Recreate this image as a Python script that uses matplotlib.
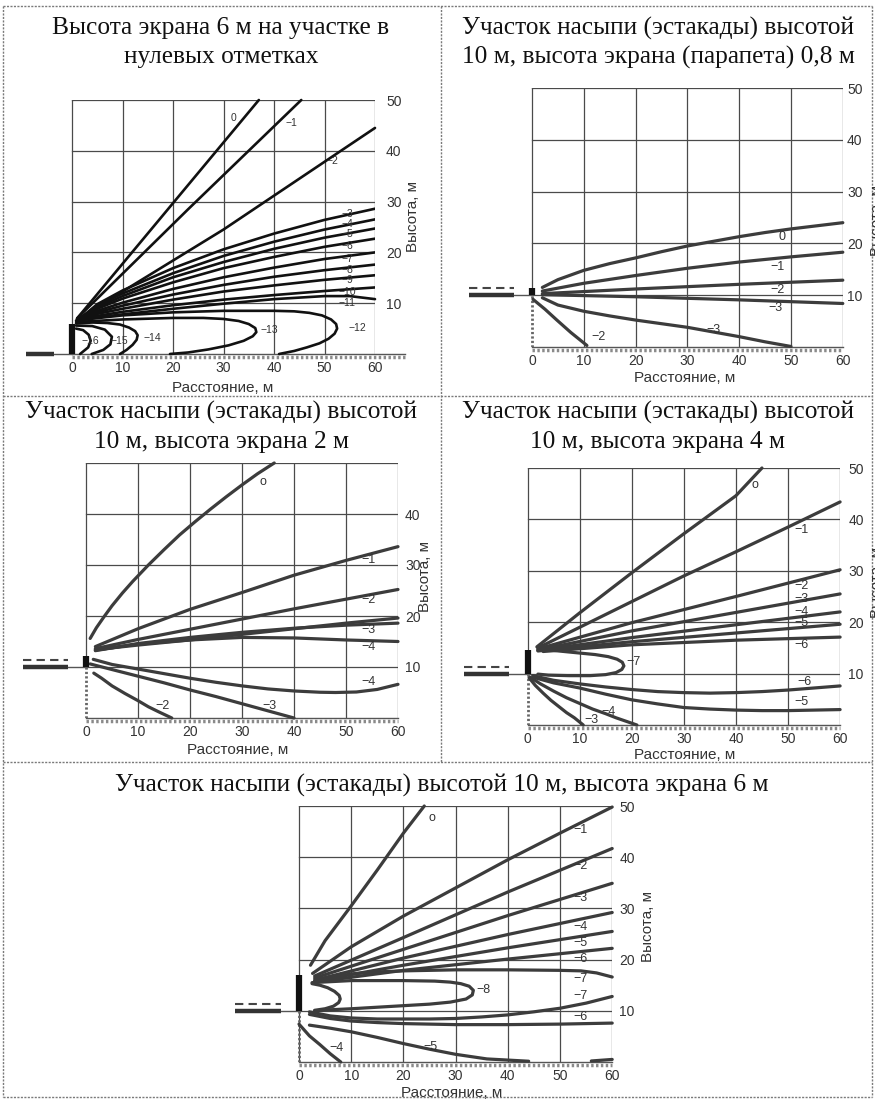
import matplotlib.pyplot as plt
from matplotlib.lines import Line2D

W, H = 875, 1099

# ---------------- panel 1: screen 6 m at grade ----------------
p1_c0 = ([1, 19, 37], [7.0, 28.5, 50.0])
p1_c1 = ([1, 23, 45.4], [7.0, 28.5, 50.0])
p1_c2 = ([1, 30, 60], [6.8, 24.5, 44.5])
p1_fan_x = [1, 5, 10, 20, 30, 40, 50, 60]
p1_c3 = [6.5, 9.8, 12.5, 16.9, 20.6, 23.7, 26.4, 28.6]
p1_c4 = [6.5, 9.5, 11.9, 15.9, 19.3, 22.1, 24.5, 26.5]
p1_c5 = [6.5, 9.2, 11.4, 15.1, 18.1, 20.7, 22.9, 24.7]
p1_c6 = [6.5, 8.9, 10.9, 14.1, 16.9, 19.1, 21.1, 22.7]
p1_c7 = [6.5, 8.5, 10.1, 12.8, 15.1, 17.0, 18.7, 20.0]
p1_c8 = [6.5, 8.2, 9.5, 11.7, 13.6, 15.2, 16.5, 17.6]
p1_c9 = [6.5, 7.9, 8.9, 10.7, 12.3, 13.5, 14.6, 15.5]
p1_c10 = [6.5, 7.5, 8.3, 9.6, 10.7, 11.6, 12.4, 13.1]
p1_c11 = ([1, 5, 10, 20, 30, 40, 50, 55, 60],
          [6.5, 7.2, 7.8, 8.9, 9.9, 10.8, 11.4, 11.4, 10.8])
p1_c12 = ([0.8, 10, 20, 30, 40, 44, 47, 49.5, 51.3, 52.3, 52.5, 52, 50.8, 49, 46.5, 44, 41],
          [6.6, 7.6, 8.2, 8.5, 8.5, 8.4, 8.1, 7.6, 6.8, 5.9, 5.0, 4.0, 3.0, 2.1, 1.3, 0.6, 0])
p1_c13 = ([0.8, 10, 20, 26, 30, 33, 35, 36.3, 36.5, 35.8, 34, 31, 27, 23, 19.4],
          [6.3, 6.8, 7.1, 7.1, 6.9, 6.5, 5.9, 5.1, 4.3, 3.5, 2.6, 1.7, 0.9, 0.3, 0])
p1_c14 = ([0.8, 4, 7, 9.5, 11.3, 12.5, 13, 12.8, 12, 10.8, 9.5],
          [6.0, 6.2, 6.1, 5.8, 5.2, 4.5, 3.7, 2.8, 1.8, 0.8, 0])
p1_c15 = ([0.8, 4, 6.5, 7.9, 7.6, 6.2, 3.9],
          [5.6, 5.5, 4.8, 3.4, 1.9, 0.8, 0])
p1_c16 = ([0.8, 2.2, 3.3, 3.7, 3.2, 1.6],
          [5.0, 4.7, 3.8, 2.6, 1.3, 0])
p1_labels = [("0", 32, 46.5), ("−1", 43.5, 45.5), ("−2", 51.5, 38.0),
             ("−3", 54.5, 27.6), ("−4", 54.5, 25.6), ("−5", 54.5, 23.7),
             ("−6", 54.5, 21.2), ("−7", 54.5, 18.7), ("−8", 54.5, 16.6),
             ("−9", 54.5, 14.5), ("−10", 54.5, 12.3), ("−11", 54.5, 10.0),
             ("−12", 56.5, 5.1), ("−13", 39.0, 4.7), ("−14", 16.0, 3.2),
             ("−15", 9.3, 2.6), ("−16", 3.6, 2.6)]

# ---------------- panel 2: embankment 10 m, parapet 0.8 m ----------------
p2_c0 = ([2, 5, 10, 15, 20, 25, 30, 35, 40, 45, 50, 55, 60],
         [11.5, 13.0, 14.8, 16.1, 17.2, 18.4, 19.5, 20.4, 21.3, 22.1, 22.8, 23.4, 24.0])
p2_c1 = ([2, 10, 20, 30, 40, 50, 60], [10.8, 12.3, 13.8, 15.2, 16.4, 17.4, 18.3])
p2_c2 = ([2, 20, 40, 60], [10.3, 11.2, 12.1, 12.9])
p2_c3 = ([2, 20, 40, 60], [10.1, 9.7, 9.1, 8.4])
p2_c3b = ([2, 5, 10, 15, 20, 25, 30, 35, 40, 45, 50],
          [9.5, 8.1, 6.9, 6.0, 5.2, 4.5, 3.8, 2.9, 2.0, 1.0, 0.1])
p2_c2b = ([0.2, 2.5, 4.8, 7.5, 10.6], [9.2, 7.3, 5.2, 2.8, 0.3])
p2_labels = [("0", 48.3, 21.2), ("−1", 47.3, 15.4), ("−2", 47.3, 11.0),
             ("−3", 47.0, 7.5), ("−3", 35.0, 3.3), ("−2", 12.8, 2.0)]

# ---------------- panel 3: embankment 10 m, screen 2 m ----------------
p3_c0 = ([0.8, 2, 3.5, 5, 7, 9, 12, 15, 18, 21, 24, 27, 30, 33, 36.2],
         [15.6, 17.7, 19.9, 22.0, 24.5, 26.8, 30.0, 33.0, 35.9, 38.5, 41.0, 43.4, 45.7, 47.9, 50.0])
p3_c1 = ([1.8, 10, 20, 30, 40, 50, 60], [14.0, 17.5, 21.3, 24.6, 28.0, 30.9, 33.6])
p3_c2 = ([1.8, 10, 20, 30, 40, 50, 60], [13.6, 15.4, 17.4, 19.4, 21.4, 23.3, 25.2])
p3_c3 = ([1.8, 10, 20, 30, 40, 50, 60], [13.4, 14.3, 15.3, 16.4, 17.5, 18.6, 19.6])
p3_c3a = ([1.8, 10, 20, 30, 40, 50, 60], [13.2, 14.6, 15.8, 16.8, 17.6, 18.2, 18.6])
p3_c4 = ([1.8, 10, 20, 30, 40, 50, 60], [13.3, 14.5, 15.3, 15.8, 15.7, 15.3, 15.0])
p3_c4b = ([1.4, 5, 10, 15, 20, 25, 30, 35, 40, 45, 48, 52, 56, 60],
          [11.5, 10.5, 9.6, 8.7, 7.8, 7.0, 6.3, 5.7, 5.3, 5.05, 5.0, 5.1, 5.6, 6.6])
p3_c3b = ([0.8, 5, 10, 15, 20, 25, 30, 35, 40], [10.6, 9.5, 8.2, 6.9, 5.5, 4.2, 2.8, 1.4, 0])
p3_c2b = ([1.5, 3, 5, 7.5, 10, 12, 14, 16.5], [8.8, 7.8, 6.3, 4.8, 3.4, 2.2, 1.2, 0])
p3_labels = [("o", 34.0, 46.3), ("−1", 54.4, 31.0), ("−2", 54.4, 23.1),
             ("−3", 54.4, 17.3), ("−4", 54.4, 13.9), ("−4", 54.4, 7.0),
             ("−3", 35.2, 2.4), ("−2", 14.8, 2.4)]

# ---------------- panel 4: embankment 10 m, screen 4 m ----------------
p4_c0 = ([1.8, 10, 20, 30, 40, 45], [15.2, 21.8, 29.6, 37.2, 44.6, 50.0])
p4_c1 = ([2, 10, 20, 30, 40, 50, 60], [15.0, 19.0, 24.0, 29.0, 33.7, 38.5, 43.4])
p4_c2 = ([2, 20, 40, 60], [14.8, 19.9, 25.0, 30.2])
p4_c3 = ([2, 20, 40, 60], [14.6, 18.3, 21.9, 25.5])
p4_c4 = ([2, 20, 40, 60], [14.5, 17.0, 19.5, 22.0])
p4_c5 = ([2, 20, 40, 60], [14.4, 16.2, 17.9, 19.6])
p4_c6 = ([3, 20, 40, 60], [14.3, 15.6, 16.5, 17.1])
p4_c7 = ([2.5, 6, 10, 13, 15.5, 17.2, 18.2, 18.5, 18.1, 17, 15, 12, 8, 4, 2],
         [14.8, 14.4, 14.0, 13.7, 13.3, 12.8, 12.2, 11.5, 10.8, 10.2, 9.8, 9.6, 9.6, 9.7, 9.9])
p4_c6b = ([1, 5, 10, 15, 20, 25, 30, 35, 40, 45, 50, 55, 60],
          [9.6, 8.7, 8.0, 7.4, 6.9, 6.5, 6.3, 6.2, 6.3, 6.5, 6.8, 7.2, 7.6])
p4_c5b = ([1, 5, 10, 15, 20, 25, 30, 35, 40, 45, 50, 55, 60],
          [9.3, 8.2, 7.2, 6.0, 4.9, 4.1, 3.4, 3.1, 2.9, 2.8, 2.8, 2.9, 3.0])
p4_c4b = ([0.5, 2.5, 5, 7.5, 10, 12.5, 15, 17, 19, 21],
          [9.3, 8.0, 6.6, 5.3, 4.2, 3.1, 2.2, 1.4, 0.7, 0])
p4_c3b = ([0.3, 1.5, 3, 4.5, 6, 7.5, 9, 10.7], [9.2, 7.7, 6.2, 4.8, 3.6, 2.4, 1.4, 0])
p4_labels = [("o", 43.7, 46.7), ("−1", 52.6, 37.9), ("−2", 52.6, 27.1),
             ("−3", 52.6, 24.6), ("−4", 52.6, 22.0), ("−5", 52.6, 19.9),
             ("−6", 52.6, 15.6), ("−7", 20.3, 12.3), ("−6", 53.2, 8.4),
             ("−5", 52.6, 4.4), ("−4", 15.5, 2.6), ("−3", 12.3, 1.0)]

# ---------------- panel 5: embankment 10 m, screen 6 m ----------------
p5_c0 = ([2.2, 5, 10, 15, 20, 24], [18.9, 23.7, 30.5, 37.5, 44.7, 50.0])
p5_c1 = ([2.6, 10, 20, 30, 40, 50, 60], [17.3, 22.5, 28.5, 34.0, 39.5, 44.7, 49.8])
p5_c2 = ([3, 20, 40, 60], [16.8, 24.3, 33.2, 41.7])
p5_c3 = ([3, 20, 40, 60], [16.4, 22.0, 28.6, 34.9])
p5_c4 = ([3, 20, 40, 60], [16.0, 20.3, 24.9, 29.2])
p5_c5 = ([3, 20, 40, 60], [15.8, 18.9, 22.3, 25.5])
p5_c6 = ([3, 20, 40, 60], [15.6, 17.9, 20.1, 22.2])
p5_c7 = ([3, 6, 10, 15, 20, 30, 40, 50, 54, 57, 60],
         [15.5, 16.5, 17.2, 17.6, 17.8, 18.0, 18.0, 17.9, 17.8, 17.4, 16.6])
p5_c8 = ([2.5, 10, 20, 26, 29, 31, 32.6, 33.4, 33.2, 32, 29, 25, 20, 15, 10, 6, 3],
         [15.5, 15.9, 15.9, 15.8, 15.6, 15.3, 14.8, 14.0, 13.1, 12.3, 11.7, 11.3, 11.0, 10.7, 10.4, 10.2, 10.0])
p5_c8i = ([2.5, 4, 5.5, 6.8, 7.7, 7.9, 7.6, 6.6, 5, 3],
          [15.3, 15.0, 14.5, 13.8, 13.0, 12.3, 11.6, 10.9, 10.4, 10.1])
p5_c7b = ([2, 6, 10, 15, 20, 25, 30, 35, 40, 45, 50, 55, 60],
          [9.8, 9.0, 8.6, 8.4, 8.4, 8.4, 8.5, 8.8, 9.2, 9.8, 10.5, 11.5, 12.8])
p5_c6b = ([2, 6, 10, 15, 20, 30, 40, 50, 60], [9.3, 8.5, 8.0, 7.7, 7.5, 7.3, 7.3, 7.4, 7.6])
p5_c5b = ([2, 6, 10, 15, 20, 25, 30, 36, 44], [7.2, 6.6, 5.9, 4.8, 3.6, 2.5, 1.5, 0.6, 0.15])
p5_c5c = ([56, 60], [0.2, 0.5])
p5_c4b = ([0, 2, 4, 6, 8], [7.4, 5.1, 3.4, 1.6, 0])
p5_labels = [("o", 25.5, 47.6), ("−1", 53.9, 45.4), ("−2", 53.9, 38.3),
             ("−3", 53.9, 32.0), ("−4", 53.9, 26.4), ("−5", 53.9, 23.2),
             ("−6", 53.9, 20.2), ("−7", 53.9, 16.3), ("−8", 35.4, 14.0),
             ("−7", 53.9, 12.9), ("−6", 53.9, 8.7), ("−5", 25.1, 2.9),
             ("−4", 7.2, 2.7)]

# road level and screen top for each panel (m)
road_level = [0, 10, 10, 10, 10]
screen_top = [6, 11.4, 12.2, 14.6, 17.0]

titles = [["Высота экрана 6 м на участке в", "нулевых отметках"],
          ["Участок насыпи (эстакады) высотой", "10 м, высота экрана (парапета) 0,8 м"],
          ["Участок насыпи (эстакады) высотой", "10 м, высота экрана 2 м"],
          ["Участок насыпи (эстакады) высотой", "10 м, высота экрана 4 м"],
          ["Участок насыпи (эстакады) высотой 10 м, высота экрана 6 м"]]
x_ticks = [0, 10, 20, 30, 40, 50, 60]
y_ticks = [10, 20, 30, 40, 50]
y_ticks_p3 = [10, 20, 30, 40]

GRID = '#4a4a4a'
TXT = '#333333'
SANS = 'Liberation Sans'
SERIF = 'Liberation Serif'

fig = plt.figure(figsize=(W / 100, H / 100), dpi=100)


def fx(x):
    return x / W


def fy(y):
    return 1 - y / H


def make_panel(x0, y0, sx, sy, xmin, ypad):
    ax = fig.add_axes([fx(x0 + xmin * sx), fy(y0), fx((60 - xmin) * sx), 50 * sy / H])
    ax.set_xlim(xmin, 60)
    ax.set_ylim(0, 50)
    ax.patch.set_alpha(0)
    for s in ax.spines.values():
        s.set_visible(False)
    ax.set_xticks(x_ticks)
    ax.yaxis.tick_right()
    ax.tick_params(length=0, labelsize=10, labelcolor=TXT, pad=5)
    ax.tick_params(axis='y', pad=ypad)
    for lab in ax.get_xticklabels() + ax.get_yticklabels():
        lab.set_fontfamily(SANS)
    return ax


def draw_grid(ax, left_solid_from):
    for gx in range(10, 70, 10):
        ax.plot([gx, gx], [0, 50], color=GRID, lw=0.9)
    for gy in range(10, 60, 10):
        ax.plot([0, 60], [gy, gy], color=GRID, lw=0.9)
    ax.plot([0, 0], [left_solid_from, 50], color=GRID, lw=0.9)


def draw_ground(ax, x_end=60):
    ax.plot([0, x_end], [0, 0], color='#555555', lw=1.0, clip_on=False)
    ax.plot([0, x_end], [-0.5, -0.5], color='#8a8a8a', lw=2.5,
            ls=(0, (0.7, 0.7)), clip_on=False)


def draw_road(ax, i, xmin):
    e = road_level[i]
    ax.plot([xmin + 0.8, -3.5], [e, e], color='#333333', lw=3.2,
            solid_capstyle='butt', clip_on=False)
    ax.plot([-3.5, 0], [e, e], color='#555555', lw=1.0, clip_on=False)
    if e > 0:
        ax.plot([xmin + 0.8, -3.5], [e + 1.3, e + 1.3], color='#444444', lw=1.5,
                ls=(0, (4, 2.5)), clip_on=False)
        ax.plot([0, 0], [0, e], color='#666666', lw=2.0, ls=(0, (0.8, 0.8)))
    ax.plot([0, 0], [e, screen_top[i]], color='#111111', lw=4.5,
            solid_capstyle='butt', zorder=5)


def draw_curves(ax, curves, color, lw):
    for xs, ys in curves:
        ax.plot(xs, ys, color=color, lw=lw, solid_capstyle='round',
                solid_joinstyle='round', clip_on=False, zorder=4)


def draw_labels(ax, labels, size=9):
    for txt, x, y in labels:
        ax.text(x, y, txt, fontsize=size, family=SANS, color=TXT,
                ha='center', va='center', zorder=6)


def axis_titles(x_cx, x_cy, y_cx, y_cy):
    fig.text(fx(x_cx), fy(x_cy), "Расстояние, м", fontsize=11, family=SANS,
             color=TXT, ha='center', va='center')
    fig.text(fx(y_cx), fy(y_cy), "Высота, м", fontsize=11, family=SANS,
             color=TXT, ha='center', va='center', rotation=90)


# ---- panel 1 ----
ax1 = make_panel(72, 354, 5.05, 5.08, -10, 8)
ax1.set_yticks(y_ticks)
draw_grid(ax1, 0)
draw_ground(ax1, 66)
draw_road(ax1, 0, -10)
draw_curves(ax1, [p1_c0, p1_c1, p1_c2], '#111111', 1.9)
for ys in [p1_c3, p1_c4, p1_c5, p1_c6, p1_c7, p1_c8, p1_c9, p1_c10]:
    ax1.plot(p1_fan_x, ys, color='#111111', lw=1.9, zorder=4,
             solid_joinstyle='round')
draw_curves(ax1, [p1_c11, p1_c12, p1_c13, p1_c14, p1_c15, p1_c16], '#111111', 1.9)
draw_labels(ax1, p1_labels, 7.5)
axis_titles(223, 388, 413, 217)

# ---- panel 2 ----
ax2 = make_panel(532, 347, 5.18, 5.18, -13, 3)
ax2.set_yticks(y_ticks)
draw_grid(ax2, 10)
draw_ground(ax2)
draw_road(ax2, 1, -13)
draw_curves(ax2, [p2_c0, p2_c1, p2_c2, p2_c3, p2_c3b, p2_c2b], '#3c3c3c', 2.3)
draw_labels(ax2, p2_labels)
axis_titles(685, 378, 877, 220)

# ---- panel 3 ----
ax3 = make_panel(86, 718, 5.2, 5.1, -13, 5)
ax3.set_yticks(y_ticks_p3)
draw_grid(ax3, 10)
draw_ground(ax3)
draw_road(ax3, 2, -13)
draw_curves(ax3, [p3_c0, p3_c1, p3_c2, p3_c3, p3_c3a, p3_c4, p3_c4b, p3_c3b, p3_c2b],
            '#3c3c3c', 2.3)
draw_labels(ax3, p3_labels)
axis_titles(238, 750, 425, 577)

# ---- panel 4 ----
ax4 = make_panel(527.5, 725, 5.21, 5.14, -13, 6)
ax4.set_yticks(y_ticks)
draw_grid(ax4, 10)
draw_ground(ax4)
draw_road(ax4, 3, -13)
draw_curves(ax4, [p4_c0, p4_c1, p4_c2, p4_c3, p4_c4, p4_c5, p4_c6, p4_c7,
                  p4_c6b, p4_c5b, p4_c4b, p4_c3b], '#3c3c3c', 2.3)
draw_labels(ax4, p4_labels)
axis_titles(685, 755, 877, 583)

# ---- panel 5 ----
ax5 = make_panel(299, 1062, 5.22, 5.12, -13, 5)
ax5.set_yticks(y_ticks)
draw_grid(ax5, 0)
draw_ground(ax5)
draw_road(ax5, 4, -13)
draw_curves(ax5, [p5_c0, p5_c1, p5_c2, p5_c3, p5_c4, p5_c5, p5_c6, p5_c7, p5_c8,
                  p5_c8i, p5_c7b, p5_c6b, p5_c5b, p5_c5c, p5_c4b], '#3c3c3c', 2.3)
draw_labels(ax5, p5_labels)
axis_titles(452, 1093, 648, 927)

# ---- titles ----
for lines, cx, ys in [(titles[0], 221, [28, 57]), (titles[1], 658, [28, 57]),
                      (titles[2], 221, [412, 442]), (titles[3], 658, [412, 442]),
                      (titles[4], 442, [785])]:
    for t, yy in zip(lines, ys):
        fig.text(fx(cx), fy(yy), t, fontsize=18.3, family=SERIF, color='#111111',
                 ha='center', va='center')

# ---- table frame ----
frame = [((3, 872), (6, 6)), ((3, 872), (1097, 1097)), ((3, 3), (6, 1097)),
         ((872, 872), (6, 1097)), ((3, 872), (396, 396)), ((3, 872), (762, 762)),
         ((441, 441), (6, 762))]
for xs, ys in frame:
    fig.add_artist(Line2D([fx(v) for v in xs], [fy(v) for v in ys],
                          color='#7a7a7a', lw=1.0, ls=(0, (1.5, 1))))

fig.savefig('out.png', dpi=100)
